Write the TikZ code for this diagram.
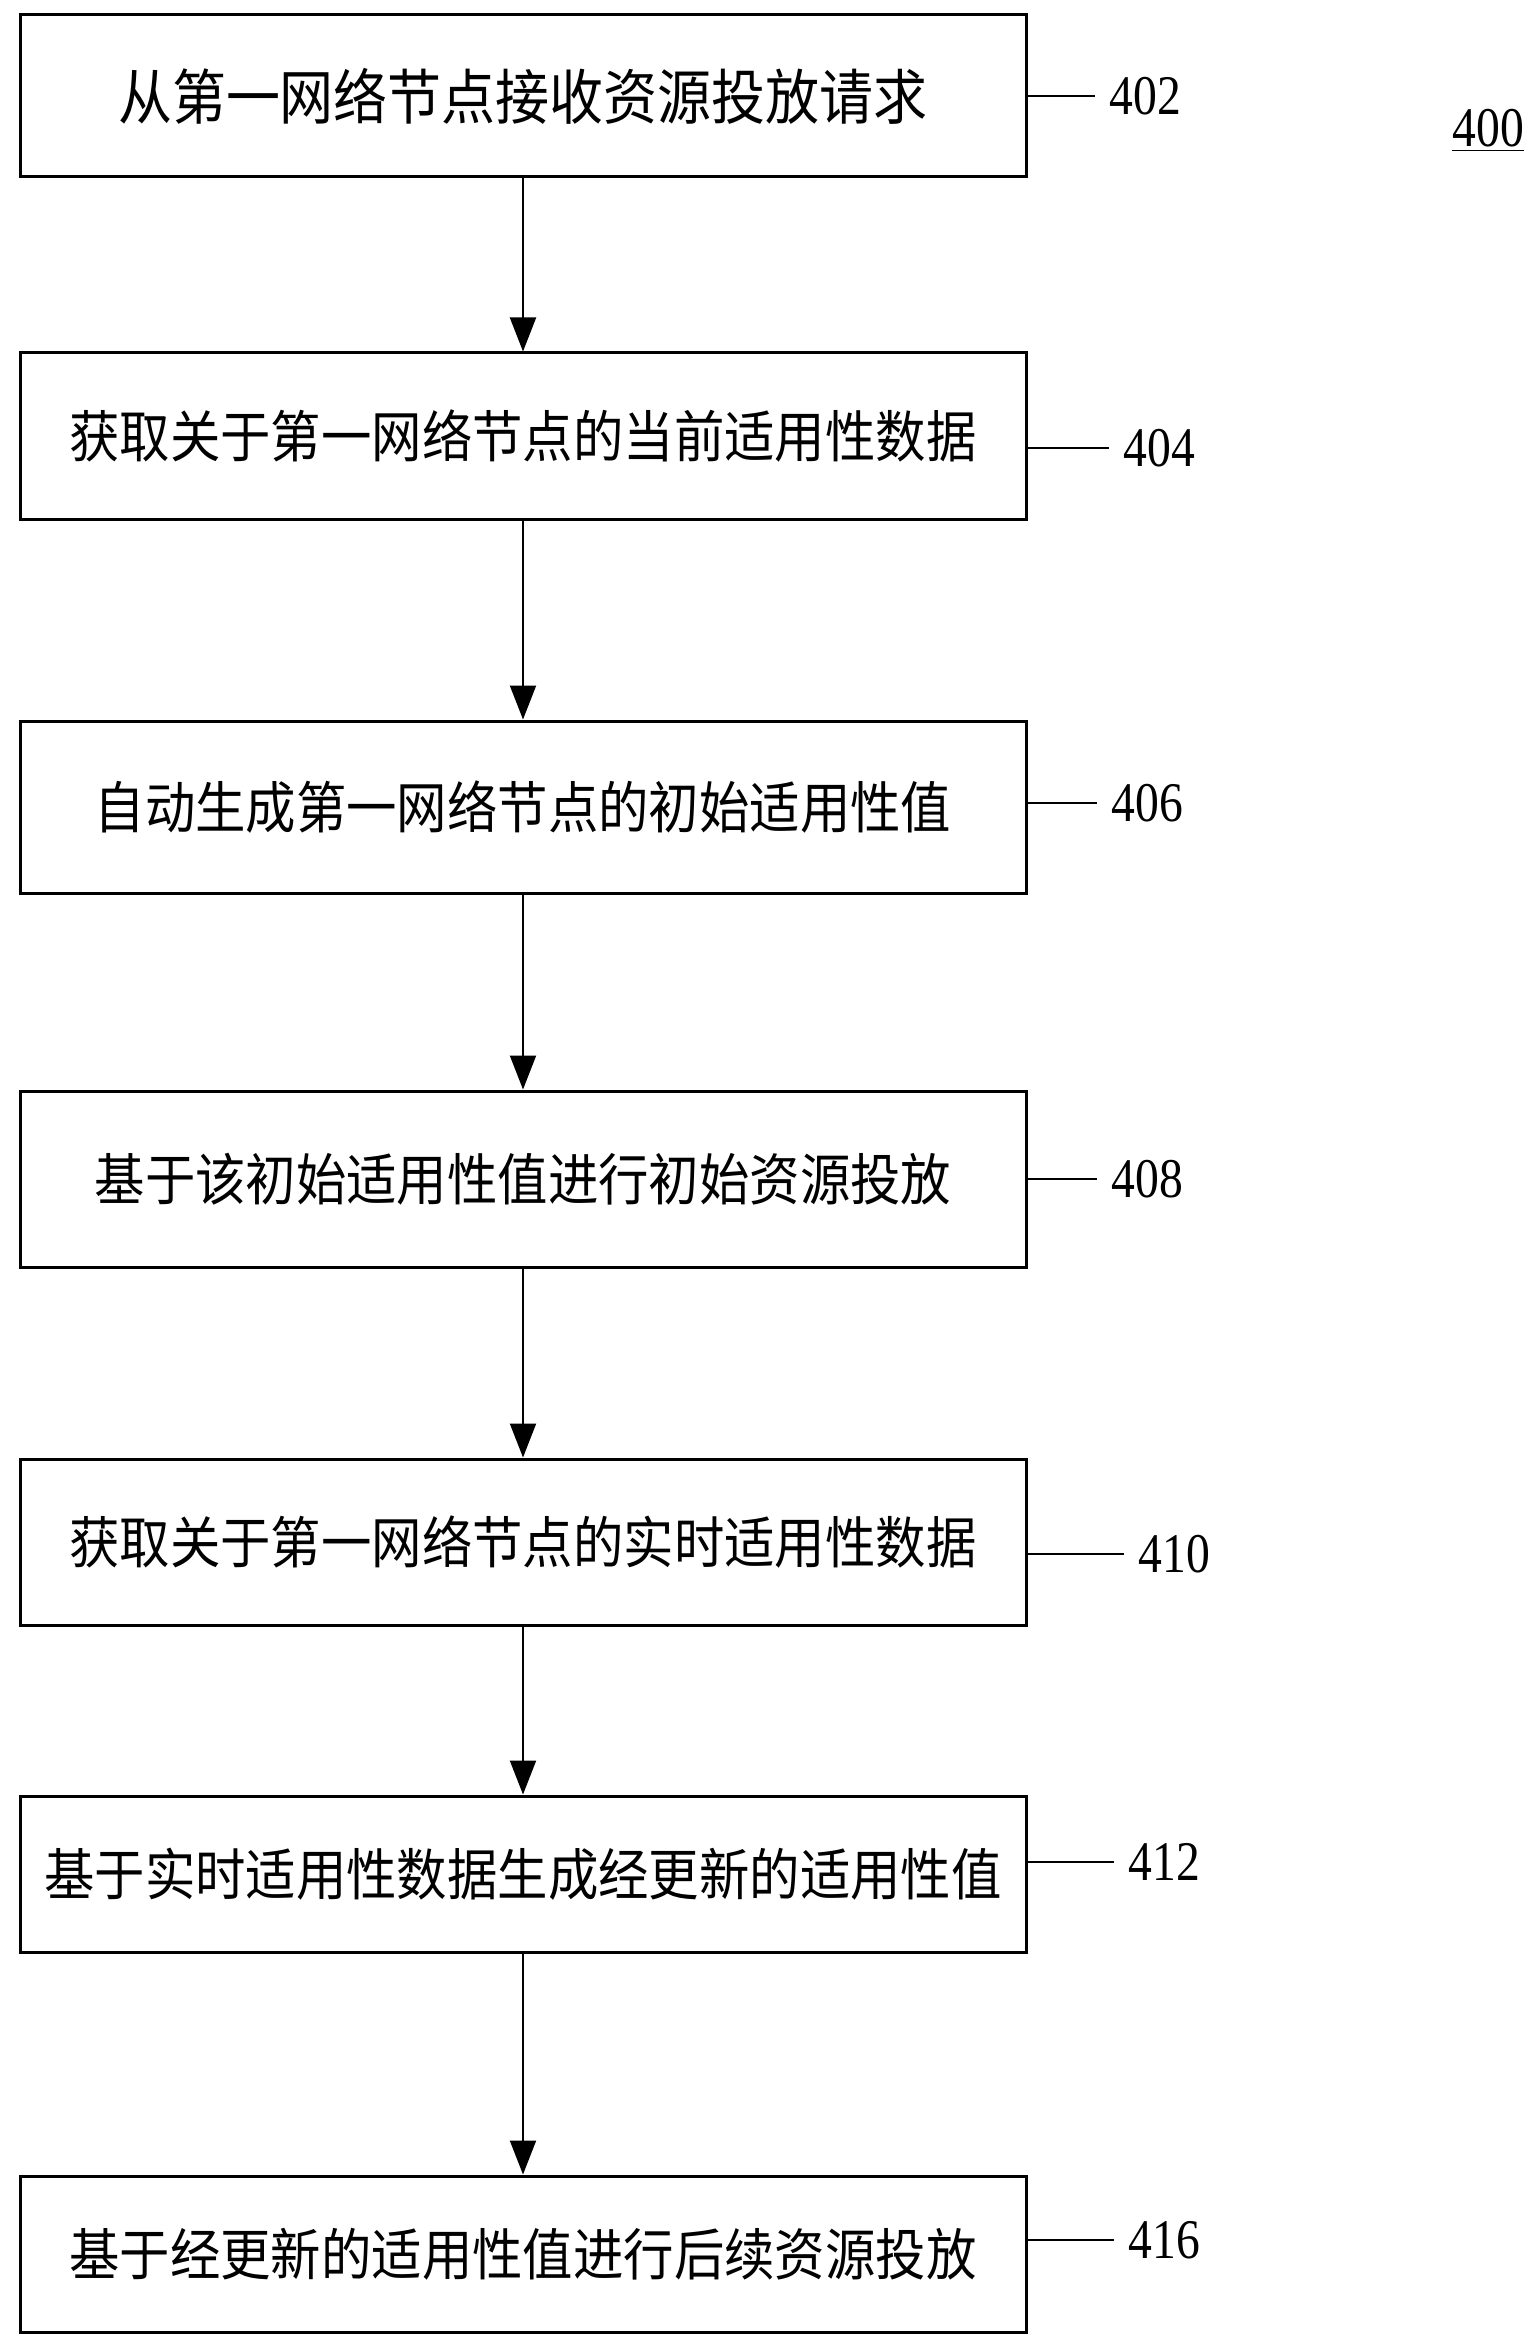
\documentclass[tikz,border=0pt]{standalone}
\usepackage{fontspec}
\setmainfont{Liberation Serif}
\newfontfamily\cjk[FakeStretch=0.9]{Noto Sans CJK SC}
\newfontfamily\numfont[FakeStretch=0.85]{Liberation Serif}
\usetikzlibrary{arrows.meta}
\begin{document}
\begin{tikzpicture}[x=0.5pt,y=0.5pt,
    stepbox/.style={draw,line width=1.5pt,minimum width=503pt,minimum height=#1,
        inner sep=0pt,font=\cjk\fontsize{28pt}{32pt}\selectfont},
    stepbox/.default=82pt,
    num/.style={anchor=west,inner sep=7pt,font=\numfont\fontsize{28pt}{32pt}\selectfont},
    flow/.style={line width=1pt,-{Triangle[length=17pt,width=13pt]}},
    tag/.style={line width=1.2pt}]
    \useasboundingbox (0,0) rectangle (1539,-2343);
    \node[stepbox=81pt,font=\cjk\fontsize{30pt}{34pt}\selectfont] (s402) at (523,-96)  {从第一网络节点接收资源投放请求};
    \node[stepbox=83pt] (s404) at (523,-436)  {获取关于第一网络节点的当前适用性数据};
    \node[stepbox=86pt] (s406) at (523,-807)  {自动生成第一网络节点的初始适用性值};
    \node[stepbox=88pt] (s408) at (523,-1179) {基于该初始适用性值进行初始资源投放};
    \node[stepbox=83pt] (s410) at (523,-1542) {获取关于第一网络节点的实时适用性数据};
    \node[stepbox=78pt] (s412) at (523,-1874) {基于实时适用性数据生成经更新的适用性值};
    \node[stepbox=78pt] (s416) at (523,-2254) {基于经更新的适用性值进行后续资源投放};
    \node[num] (n402) at (1095,-96)   {402};
    \node[num] (n404) at (1109,-448)  {404};
    \node[num] (n406) at (1097,-803)  {406};
    \node[num] (n408) at (1097,-1179) {408};
    \node[num] (n410) at (1124,-1554) {410};
    \node[num] (n412) at (1114,-1862) {412};
    \node[num] (n416) at (1114,-2240) {416};
    \node[font=\numfont\fontsize{28pt}{32pt}\selectfont,inner sep=0pt,anchor=base west] (fig) at (1452,-147) {\underline{400}};
    \foreach \a/\b in {402/404,404/406,406/408,408/410,410/412,412/416}
        \draw[flow] (s\a) -- (s\b);
    \foreach \a in {402,404,406,408,410,412,416}
        \draw[tag] (s\a.east |- n\a.west) -- (n\a.west);
\end{tikzpicture}
\end{document}
